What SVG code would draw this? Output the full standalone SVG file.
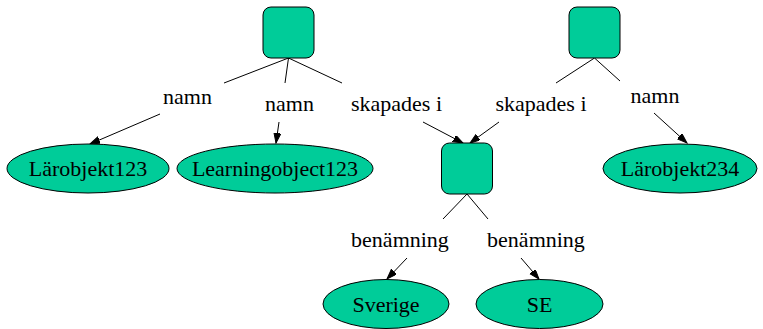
<svg xmlns="http://www.w3.org/2000/svg" width="763" height="329" viewBox="0 0 763 329">
<style>
.n{fill:#00cc99;stroke:#000;stroke-width:1}
.t{font-size:22px;fill:#000;text-anchor:middle}
.e{fill:none;stroke:#000;stroke-width:1}
</style>
<defs>
<marker id="ah" markerUnits="userSpaceOnUse" markerWidth="11" markerHeight="8" refX="10" refY="3.5" orient="auto">
<path d="M0,0 L10,3.5 L0,7 z" fill="#000" stroke="#000" stroke-width="1"/>
</marker>
</defs>
<rect width="763" height="329" fill="#fff"/>
<g font-family="Liberation Serif, Times New Roman, Times, serif">
<g id="connectors">
<line class="e" x1="288.5" y1="58" x2="224" y2="83"/>
<line class="e" x1="160" y1="114" x2="90" y2="144" marker-end="url(#ah)"/>
<line class="e" x1="288.5" y1="58" x2="285" y2="83"/>
<line class="e" x1="279" y1="122" x2="276" y2="143" marker-end="url(#ah)"/>
<line class="e" x1="288.5" y1="58" x2="342" y2="83"/>
<line class="e" x1="423" y1="122" x2="463" y2="143" marker-end="url(#ah)"/>
<line class="e" x1="594.5" y1="58" x2="556" y2="83"/>
<line class="e" x1="499" y1="122" x2="470" y2="143" marker-end="url(#ah)"/>
<line class="e" x1="594.5" y1="58" x2="620" y2="81"/>
<line class="e" x1="654" y1="113" x2="687" y2="143" marker-end="url(#ah)"/>
<line class="e" x1="467" y1="194" x2="443" y2="219"/>
<line class="e" x1="407" y1="258" x2="387" y2="279" marker-end="url(#ah)"/>
<line class="e" x1="467" y1="194" x2="488" y2="219"/>
<line class="e" x1="521" y1="258" x2="539" y2="279" marker-end="url(#ah)"/>
<text class="t" x="187.5" y="104">namn</text>
<text class="t" x="289.5" y="111">namn</text>
<text class="t" x="396.5" y="111">skapades i</text>
<text class="t" x="541" y="111">skapades i</text>
<text class="t" x="655" y="103">namn</text>
<text class="t" x="400" y="247">benämning</text>
<text class="t" x="536" y="247">benämning</text>
</g>
<g id="nodeA"><rect class="n" x="263" y="7" width="51" height="51" rx="8"/></g>
<g id="nodeB"><rect class="n" x="569" y="7" width="51" height="51" rx="8"/></g>
<g id="nodeC"><rect class="n" x="441.5" y="143" width="51" height="51" rx="8"/></g>
<g id="larobjekt123"><ellipse class="n" cx="88" cy="168.5" rx="81" ry="24.5"/><text class="t" x="88" y="176">Lärobjekt123</text></g>
<g id="learningobject123"><ellipse class="n" cx="275" cy="168.5" rx="98" ry="24.5"/><text class="t" x="275" y="176">Learningobject123</text></g>
<g id="larobjekt234"><ellipse class="n" cx="680" cy="168.5" rx="77" ry="24.5"/><text class="t" x="680" y="176">Lärobjekt234</text></g>
<g id="sverige"><ellipse class="n" cx="386" cy="304" rx="63" ry="24.5"/><text class="t" x="386" y="312">Sverige</text></g>
<g id="se"><ellipse class="n" cx="539.5" cy="304" rx="63.5" ry="24.5"/><text class="t" x="539.5" y="312">SE</text></g>
</g>
</svg>
